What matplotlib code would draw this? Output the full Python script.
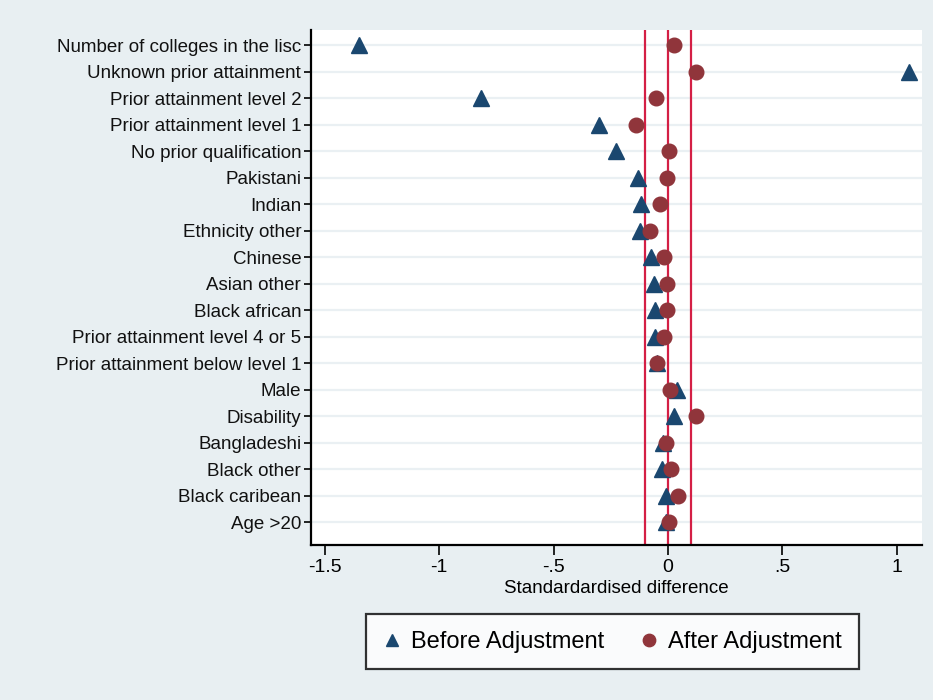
import matplotlib
matplotlib.use('Agg')
import matplotlib.pyplot as plt
import numpy as np

plt.rcParams['font.family'] = ['Liberation Sans', 'DejaVu Sans']

# Variables, de arriba hacia abajo
variables = ['Number of colleges in the lisc', 'Unknown prior attainment',
             'Prior attainment level 2', 'Prior attainment level 1',
             'No prior qualification', 'Pakistani', 'Indian', 'Ethnicity other',
             'Chinese', 'Asian other', 'Black african',
             'Prior attainment level 4 or 5', 'Prior attainment below level 1',
             'Male', 'Disability', 'Bangladeshi', 'Black other',
             'Black caribean', 'Age >20']

# Diferencia estandarizada antes y despues del ajuste
antes = [-1.35, 1.053, -0.817, -0.303, -0.229, -0.131, -0.119, -0.124, -0.076,
         -0.060, -0.057, -0.058, -0.050, 0.039, 0.025, -0.023, -0.027, -0.007, -0.011]
despues = [0.025, 0.124, -0.053, -0.142, 0.005, -0.004, -0.035, -0.080, -0.018,
           -0.005, -0.005, -0.018, -0.048, 0.007, 0.122, -0.007, 0.014, 0.043, 0.005]

lineas_ref = [-0.1, 0, 0.1]
xticks = [-1.5, -1, -0.5, 0, 0.5, 1]
xticklabels = ['-1.5', '-1', '-.5', '0', '.5', '1']

fondo = '#E8EFF2'
azul = '#1A476F'
granate = '#90353B'

fig = plt.figure(figsize=(9.33, 7), dpi=100, facecolor=fondo)
ax = fig.add_axes([0.3333, 0.221, 0.655, 0.736])
ax.set_facecolor('white')

y = np.arange(1, len(variables) + 1)

for yy in y:
    ax.axhline(yy, color='#EAF0F3', lw=1.6, zorder=0)

for xv in lineas_ref:
    ax.axvline(xv, color='#D41F45', lw=1.6, zorder=1)

ax.plot(antes, y, linestyle='none', marker='^', ms=11, color=azul,
        label='Before Adjustment', zorder=3)
ax.plot(despues, y, linestyle='none', marker='o', ms=10.5, color=granate,
        label='After Adjustment', zorder=4)

ax.set_ylim(19.87, 0.43)
ax.set_xlim(-1.56, 1.11)
ax.set_yticks(y)
ax.set_yticklabels(variables, fontsize=13.5, color='#111111')
ax.set_xticks(xticks)
ax.set_xticklabels(xticklabels, fontsize=14)
ax.tick_params(axis='y', length=5, width=1.2, pad=2)
ax.tick_params(axis='x', length=7, width=1.2, pad=3)
ax.set_xlabel('Standardardised difference', fontsize=13.5, labelpad=3)

for s in ['top', 'right']:
    ax.spines[s].set_visible(False)
for s in ['left', 'bottom']:
    ax.spines[s].set_linewidth(1.6)

leg = fig.legend(loc='center', bbox_to_anchor=(0.6565, 0.0829), ncol=2,
                 fontsize=17, frameon=True, fancybox=False, edgecolor='black',
                 handletextpad=0.4, columnspacing=1.5, borderpad=0.7,
                 handlelength=0.8, markerscale=0.85)
leg.get_frame().set_linewidth(1.6)

fig.savefig('out.png', dpi=100, facecolor=fondo)
